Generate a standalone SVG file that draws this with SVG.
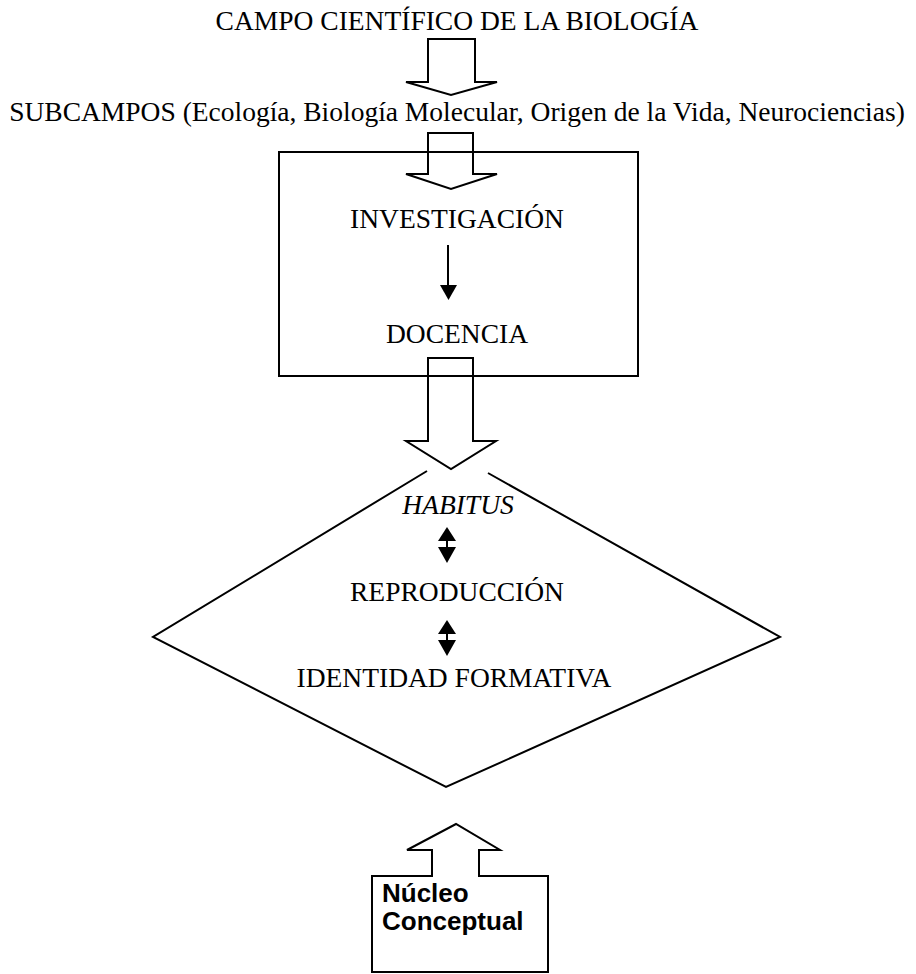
<svg xmlns="http://www.w3.org/2000/svg" width="916" height="974" viewBox="0 0 916 974">
<style>
.t{font-family:"Liberation Serif","Times New Roman",serif;font-size:27.5px;fill:#000;text-anchor:middle}
.i{font-style:italic}
.b{font-family:"Liberation Sans",Arial,sans-serif;font-weight:bold;font-size:26px;fill:#000}
.s{fill:none;stroke:#000;stroke-width:2;stroke-linejoin:miter}
.f{fill:#000;stroke:none}
</style>
<rect width="916" height="974" fill="#fff"/>
<g id="campo"><text class="t" x="457" y="30">CAMPO CIENTÍFICO DE LA BIOLOGÍA</text></g>
<g id="subcampos"><text class="t" x="457" y="121">SUBCAMPOS (Ecología, Biología Molecular, Origen de la Vida, Neurociencias)</text></g>
<g id="caja">
<rect class="s" x="279" y="152" width="359" height="224"/>
<text class="t" x="457" y="228">INVESTIGACIÓN</text>
<text class="t" x="457" y="343">DOCENCIA</text>
</g>
<g id="rombo">
<polyline class="s" stroke-width="2.5" points="427,471 153,637 446,787 780,637 488,473"/>
<text class="t i" x="458" y="514">HABITUS</text>
<text class="t" x="457" y="601">REPRODUCCIÓN</text>
<text class="t" x="454" y="687">IDENTIDAD FORMATIVA</text>
</g>
<g id="nucleo">
<path class="s" d="M372,876 L432,876 L432,850 L407,850 L456,824 L500,850 L479,850 L479,876 L548,876 L548,972 L372,972 Z"/>
<text class="b" x="382" y="902">Núcleo</text>
<text class="b" x="382" y="930">Conceptual</text>
</g>
<g id="conectores">
<path class="s" d="M428,39 L428,82 L406,82 L451,95 L497,82 L475,82 L475,39 Z"/>
<path class="s" d="M428,133 L428,174 L406,174 L451,189 L497,174 L473,174 L473,133 Z"/>
<path class="s" d="M428,358 L428,441 L406,441 L451,469 L496,441 L473,441 L473,358 Z"/>
<line x1="448" y1="245" x2="448" y2="287" stroke="#000" stroke-width="2"/>
<polygon class="f" points="440,285 457,285 448.5,300"/>
<polygon class="f" points="447,527 438,541 456,541"/>
<line x1="447" y1="540" x2="447" y2="548" stroke="#000" stroke-width="2"/>
<polygon class="f" points="438,547 456,547 447,563"/>
<polygon class="f" points="447,620 438,634 456,634"/>
<line x1="447" y1="633" x2="447" y2="641" stroke="#000" stroke-width="2"/>
<polygon class="f" points="438,640 456,640 447,656"/>
</g>
</svg>
